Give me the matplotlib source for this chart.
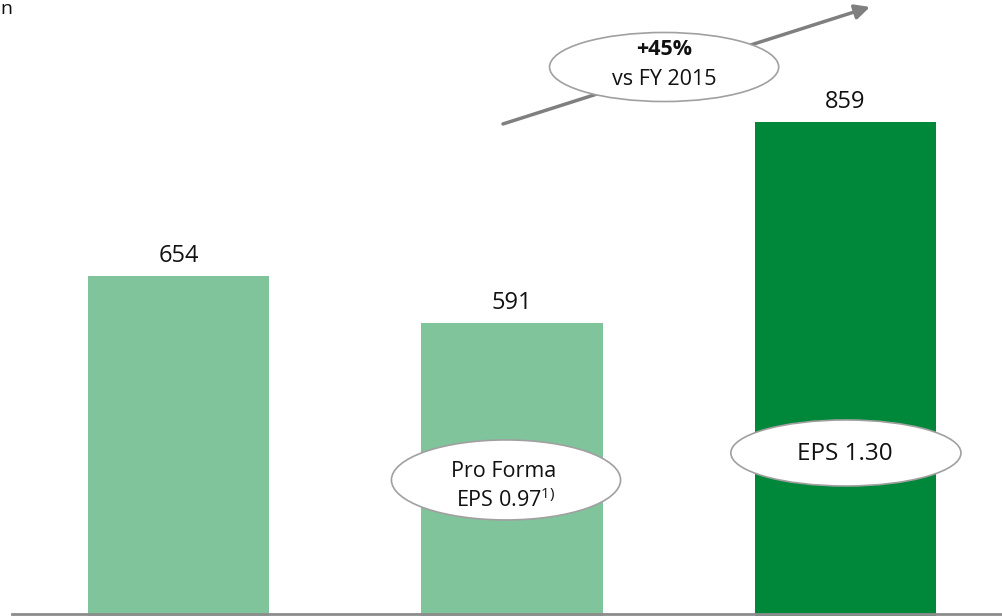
import matplotlib.pyplot as plt
from matplotlib.patches import Ellipse

plt.rcParams['font.family'] = ['Open Sans', 'DejaVu Sans']
plt.rcParams['mathtext.fontset'] = 'custom'
plt.rcParams['mathtext.rm'] = 'Open Sans'

# data
periods = ["FY 2015", "FY 2015 Pro Forma", "FY 2016"]
net_income = [654, 591, 859]
bar_colors = ["#80C49B", "#80C49B", "#00883A"]
growth_text = "+45%"
growth_sub = "vs FY 2015"
eps_pro_forma = ["Pro Forma", "EPS 0.97$^{\\mathregular{1)}}$"]
eps_2016 = "EPS 1.30"

fig = plt.figure(figsize=(10.03, 6.16), dpi=100)
ax = fig.add_axes([0, 0, 1, 1])
ax.set_xlim(-0.535, 2.472)
ax.set_ylim(201, 1021)
ax.axis('off')

x = range(len(net_income))
bars = ax.bar(x, net_income, width=0.543, color=bar_colors, zorder=2)

# baseline
ax.axhline(203.7, xmin=12 / 1003, xmax=1, color="#8C8C8C", lw=2.0, zorder=3)

# value labels on top of bars
for i, v in zip(x, net_income):
    ax.annotate(str(v), xy=(i, v), xytext=(0, 10), textcoords='offset points',
                ha='center', va='baseline', fontsize=17, color="#111111")

# growth arrow
ax.annotate('', xy=(2.073, 1011.7), xytext=(0.973, 856.0),
            arrowprops=dict(arrowstyle='-|>', color="#7F7F7F", lw=2.5,
                            mutation_scale=22, shrinkA=0, shrinkB=0),
            zorder=4)

def bubble(cx, cy, w, h):
    e = Ellipse((cx, cy), w, h, facecolor='white', edgecolor="#A0A0A0",
                lw=1.2, zorder=5)
    ax.add_patch(e)

bubble(1.456, 931.8, 0.687, 91.9)
ax.text(1.456, 947.8, growth_text, ha='center', va='baseline', fontsize=15.5,
        fontweight='bold', color="#111111", zorder=6)
ax.text(1.456, 907.9, growth_sub, ha='center', va='baseline', fontsize=15.5,
        color="#111111", zorder=6)

bubble(0.982, 382.1, 0.687, 106.5)
ax.text(0.975, 386.0, eps_pro_forma[0], ha='center', va='baseline', fontsize=15.5,
        color="#111111", zorder=6)
ax.text(0.98, 346.1, eps_pro_forma[1], ha='center', va='baseline',
        fontsize=15.5, color="#111111", zorder=6)

bubble(2.001, 418.0, 0.690, 87.9)
ax.text(1.998, 408.7, eps_2016, ha='center', va='baseline', fontsize=17.5,
        color="#111111", zorder=6)

# cut off unit label at top left
fig.text(0.0, 1 - 13.5 / 616, "n", ha='left', va='baseline', fontsize=14,
         color="#111111")

fig.savefig("out.png", dpi=100)
